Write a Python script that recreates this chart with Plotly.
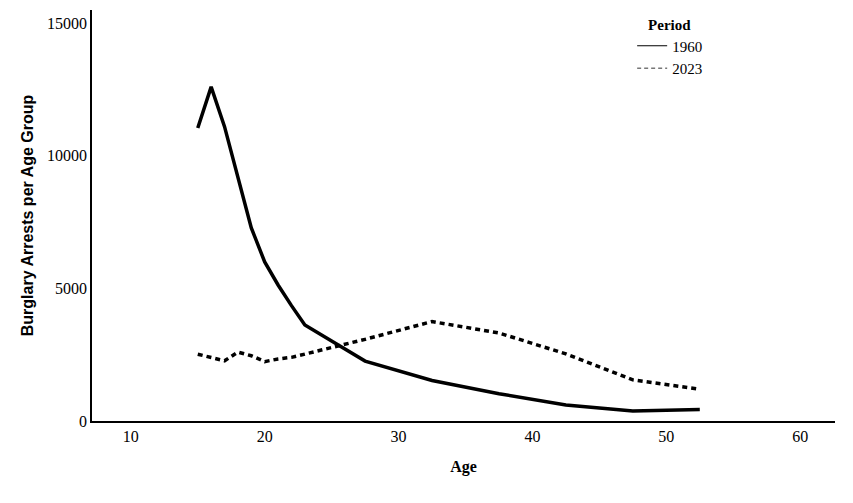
import plotly.graph_objects as go

ages = [15, 16, 17, 18, 19, 20, 21, 22, 23, 27.5, 32.5, 37.5, 42.5, 47.5, 52.5]
arrests_1960 = [11050, 12600, 11100, 9200, 7280, 6000, 5130, 4350, 3620, 2260, 1530, 1030, 600, 380, 430]
arrests_2023 = [2520, 2400, 2270, 2600, 2460, 2240, 2340, 2400, 2520, 3080, 3750, 3320, 2530, 1550, 1200]
series_names = ["1960", "2023"]

serif = "Liberation Serif, Times New Roman, serif"
sans = "Liberation Sans, Arial, sans-serif"

fig = go.Figure()
fig.add_trace(go.Scatter(x=ages, y=arrests_1960, mode="lines", showlegend=False,
                         line=dict(color="black", width=3.5)))
fig.add_trace(go.Scatter(x=ages, y=arrests_2023, mode="lines", showlegend=False,
                         line=dict(color="black", width=3.5, dash="5px,4px")))
# legend entries (thin samples)
fig.add_trace(go.Scatter(x=[None], y=[None], mode="lines", name=series_names[0],
                         line=dict(color="black", width=1)))
fig.add_trace(go.Scatter(x=[None], y=[None], mode="lines", name=series_names[1],
                         line=dict(color="#777777", width=1.5, dash="4px,3px")))

fig.update_layout(
    width=853, height=503,
    margin=dict(l=84, r=26, t=2, b=90),
    paper_bgcolor="white", plot_bgcolor="white",
    font=dict(family=serif, size=16, color="black"),
    xaxis=dict(range=[7.1, 62.6], tickvals=[10, 20, 30, 40, 50, 60], showgrid=False,
               zeroline=False, showline=True, linecolor="black", linewidth=1.5,
               ticks="", title=dict(text="<b>Age</b>", font=dict(family=serif, size=16), standoff=17)),
    yaxis=dict(range=[0, 15500], tickvals=[0, 5000, 10000, 15000], showgrid=False,
               zeroline=False, showline=True, linecolor="black", linewidth=1.5,
               ticks="", tickformat="d",
               title=dict(text="<b>Burglary Arrests per Age Group</b>",
                          font=dict(family=sans, size=16), standoff=9)),
    legend=dict(x=0.727, y=1.0, xanchor="left", yanchor="top",
                title=dict(text="<b>Period</b>", side="top center", font=dict(family=serif, size=15)),
                font=dict(family=serif, size=15), bgcolor="rgba(0,0,0,0)",
                tracegroupgap=0, itemwidth=30),
)

fig.write_html("out.html")
